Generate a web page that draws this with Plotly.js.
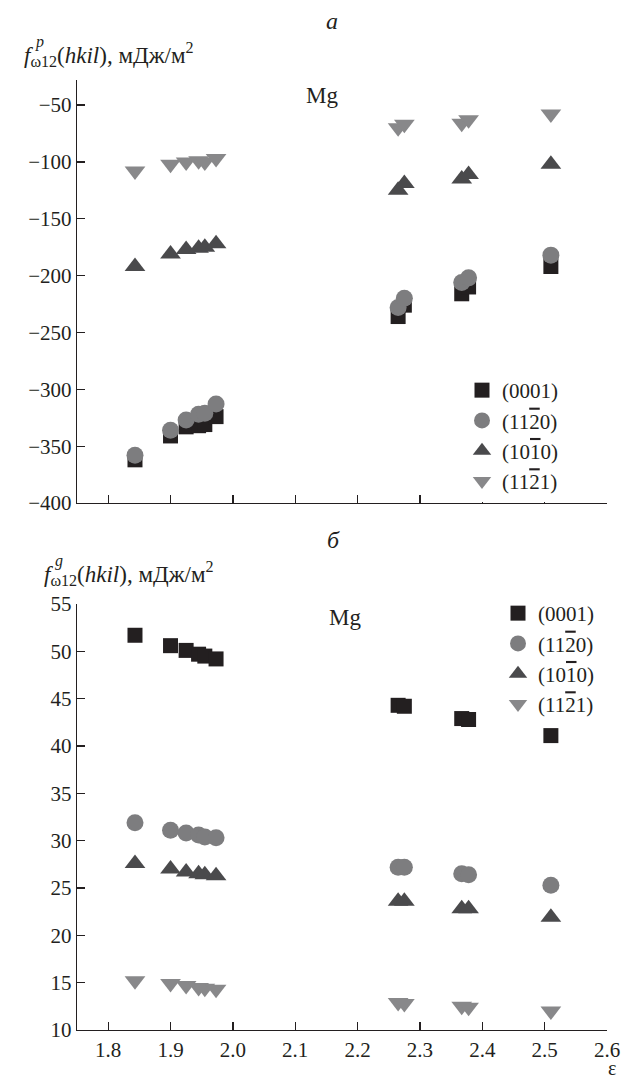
<!DOCTYPE html>
<html>
<head>
<meta charset="utf-8">
<script src="https://cdn.plot.ly/plotly-3.0.1.min.js"></script>
<style>html,body{margin:0;padding:0;background:#fff;}#chart{width:626px;height:1083px;}
#fontwarm{position:absolute;left:0;top:0;font-family:'Liberation Serif';font-size:2px;color:#fff;}
#chart svg text{fill:#231f20 !important;}</style>
</head>
<body>
<span id="fontwarm">a</span>
<div id="chart"></div>
<script>
// strain values (ε) shared by both panels
const eps = [1.843, 1.900, 1.925, 1.945, 1.955, 1.973, 2.265, 2.275, 2.367, 2.378, 2.510];

// panel a: f^p_ω12(hkil), мДж/м²
const p0001 = [-362, -341, -333, -332, -331, -324, -236, -226, -216, -210, -192];
const p1120 = [-358, -336, -327, -322, -321, -313, -228, -220, -206, -202, -182];
const p1010 = [-192, -181, -177, -176, -175, -172, -125, -119, -115, -111, -102];
const p1121 = [-108, -102, -100, -99, -100, -97, -70, -67, -66, -63, -58];

// panel б: f^g_ω12(hkil), мДж/м²
const g0001 = [51.7, 50.6, 50.1, 49.7, 49.5, 49.2, 44.3, 44.2, 42.9, 42.8, 41.1];
const g1120 = [31.9, 31.1, 30.8, 30.6, 30.4, 30.3, 27.2, 27.2, 26.5, 26.4, 25.3];
const g1010 = [27.6, 27.0, 26.7, 26.5, 26.4, 26.3, 23.6, 23.6, 22.8, 22.8, 21.9];
const g1121 = [15.2, 14.9, 14.7, 14.5, 14.4, 14.3, 12.9, 12.8, 12.5, 12.4, 12.0];

const seriesNames = ['(0001)',
  '(11<span style="text-decoration:overline">2</span>0)',
  '(10<span style="text-decoration:overline">1</span>0)',
  '(11<span style="text-decoration:overline">2</span>1)'];
const xTicks = [1.8, 1.9, 2.0, 2.1, 2.2, 2.3, 2.4, 2.5, 2.6];
const xTickText = ['1.8', '1.9', '2.0', '2.1', '2.2', '2.3', '2.4', '2.5', '2.6'];
const yTicksA = [-400, -350, -300, -250, -200, -150, -100, -50];
const yTicksB = [10, 15, 20, 25, 30, 35, 40, 45, 50, 55];

const ink = '#231f20';
const serif = 'Liberation Serif';
const styles = [
  {symbol: 'square', color: '#231f20', size: 15},
  {symbol: 'circle', color: '#7d7d7f', size: 17},
  {symbol: 'triangle-up', color: '#4a4a4c', size: 18},
  {symbol: 'triangle-down', color: '#88888a', size: 18}
];
const topSeries = [p0001, p1120, p1010, p1121];
const botSeries = [g0001, g1120, g1010, g1121];

const traces = [];
topSeries.forEach((ys, i) => {
  traces.push({x: eps, y: ys, xaxis: 'x2', yaxis: 'y2', mode: 'markers',
    name: seriesNames[i], legend: 'legend',
    marker: {symbol: styles[i].symbol, color: styles[i].color, size: styles[i].size}});
});
botSeries.forEach((ys, i) => {
  traces.push({x: eps, y: ys, mode: 'markers',
    name: seriesNames[i], legend: 'legend2',
    marker: {symbol: styles[i].symbol, color: styles[i].color, size: styles[i].size}});
});

const axisCommon = {showgrid: false, zeroline: false, showline: true, linecolor: ink, linewidth: 1.3,
  ticks: 'inside', ticklen: 8, tickwidth: 1.3, tickcolor: ink};

const layout = {
  width: 626, height: 1083,
  margin: {l: 77, r: 19, t: 80, b: 53},
  font: {family: serif, size: 21},
  showlegend: true,
  xaxis: Object.assign({}, axisCommon, {domain: [0, 1], range: [1.75, 2.6], anchor: 'y',
    tickmode: 'array', tickvals: xTicks, ticktext: xTickText}),
  yaxis: Object.assign({}, axisCommon, {domain: [0, 0.4484], range: [10, 55], anchor: 'x',
    tickmode: 'array', tickvals: yTicksB}),
  xaxis2: Object.assign({}, axisCommon, {domain: [0, 1], range: [1.75, 2.6], anchor: 'y2',
    tickmode: 'array', tickvals: xTicks, showticklabels: false}),
  yaxis2: Object.assign({}, axisCommon, {domain: [0.5547, 1], range: [-400, -28], anchor: 'x2',
    tickmode: 'array', tickvals: yTicksA}),
  legend: {x: (462 - 77) / 530, y: (1030 - 370) / 950, xanchor: 'left', yanchor: 'top', itemwidth: 30},
  legend2: {x: (498 - 77) / 530, y: (1030 - 593) / 950, xanchor: 'left', yanchor: 'top', itemwidth: 30},
  annotations: [
    {text: '<i>a</i>', xref: 'paper', yref: 'paper', x: (332 - 77) / 530, y: (1030 - 21) / 950,
      showarrow: false, xanchor: 'center', yanchor: 'middle', font: {family: serif, size: 24}},
    {text: '<i>б</i>', xref: 'paper', yref: 'paper', x: (333 - 77) / 530, y: (1030 - 540) / 950,
      showarrow: false, xanchor: 'center', yanchor: 'middle', font: {family: serif, size: 24}},
    {text: 'Mg', xref: 'paper', yref: 'paper', x: (322 - 77) / 530, y: (1030 - 96) / 950,
      showarrow: false, xanchor: 'center', yanchor: 'middle', font: {family: serif, size: 23}},
    {text: 'Mg', xref: 'paper', yref: 'paper', x: (345 - 77) / 530, y: (1030 - 617) / 950,
      showarrow: false, xanchor: 'center', yanchor: 'middle', font: {family: serif, size: 23}},
    {text: '<i>f</i><sub>ω12</sub>(<i>hkil</i>), мДж/м<sup>2</sup>', xref: 'paper', yref: 'paper',
      x: (22 - 77) / 530, y: (1030 - 55) / 950, showarrow: false, xanchor: 'left', yanchor: 'middle',
      font: {family: serif, size: 23}},
    {text: '<i>p</i>', xref: 'paper', yref: 'paper', x: (33 - 77) / 530, y: (1030 - 42) / 950,
      showarrow: false, xanchor: 'left', yanchor: 'middle', font: {family: serif, size: 16}},
    {text: '<i>f</i><sub>ω12</sub>(<i>hkil</i>), мДж/м<sup>2</sup>', xref: 'paper', yref: 'paper',
      x: (42 - 77) / 530, y: (1030 - 573) / 950, showarrow: false, xanchor: 'left', yanchor: 'middle',
      font: {family: serif, size: 23}},
    {text: '<i>g</i>', xref: 'paper', yref: 'paper', x: (53 - 77) / 530, y: (1030 - 561) / 950,
      showarrow: false, xanchor: 'left', yanchor: 'middle', font: {family: serif, size: 16}},
    {text: 'ε', xref: 'paper', yref: 'paper', x: (612 - 77) / 530, y: (1030 - 1068) / 950,
      showarrow: false, xanchor: 'center', yanchor: 'middle', font: {family: serif, size: 20}}
  ]
};

Plotly.newPlot('chart', traces, layout, {staticPlot: true});
</script>
</body>
</html>
